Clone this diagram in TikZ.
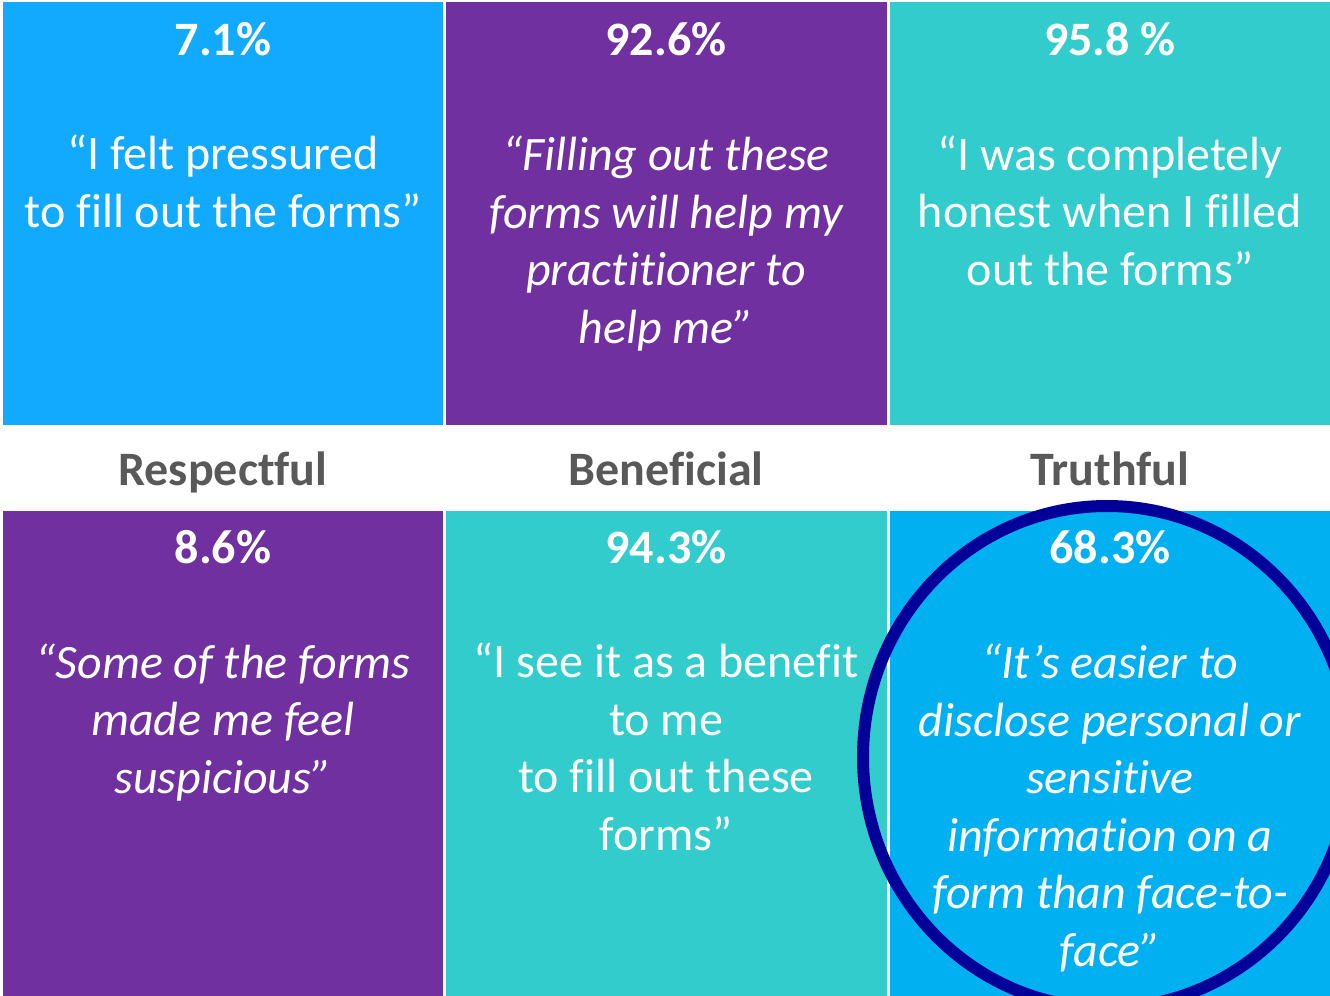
\documentclass[tikz,border=0pt]{standalone}
\usepackage{fontspec}
\setmainfont{Carlito}[Ligatures={NoCommon}]
\definecolor{skyblue}{RGB}{17,170,255}
\definecolor{plum}{RGB}{112,48,160}
\definecolor{teal}{RGB}{51,204,204}
\definecolor{cyanblue}{RGB}{0,176,240}
\definecolor{navy}{RGB}{0,0,153}
\definecolor{labelgray}{RGB}{89,89,89}
\begin{document}
\begin{tikzpicture}[x=.5pt, y=-.5pt, line join=round, line cap=round]
	\def\fs{\fontsize{24}{28.75}\selectfont}
	\tikzset{
		pct/.style={anchor=base, inner sep=0, text=white, font=\fs\bfseries},
		quote/.style={anchor=base, inner sep=0, align=center, text=white, font=\fs},
		lbl/.style={anchor=base, inner sep=0, text=labelgray, font=\fs\bfseries}
	}
	\useasboundingbox (0,0) rectangle (1330,996);
	% boxes
	\fill[skyblue] (3,2) rectangle (443,425);
	\fill[plum] (446,2) rectangle (887,425);
	\fill[teal] (890,2) rectangle (1330,425);
	\fill[plum] (3,511) rectangle (443,996);
	\fill[teal] (446,511) rectangle (887,996);
	\fill[cyanblue] (890,511) rectangle (1330,996);
	\draw[navy, line width=6pt] (1107,757) ellipse [x radius=244, y radius=251];
	% top row
	\node[pct] (p1) at (223,55) {7.1\%};
	\node[quote] (q1) at (223,227) {“I felt pressured\\to fill out the forms”};
	\node[pct] (p2) at (666,55) {92.6\%};
	\node[quote, font=\fs\itshape] (q2) at (666,343) {“Filling out these\\forms will help my\\practitioner to\\help me”};
	\node[pct] (p3) at (1110,55) {95.8 \%};
	\node[quote] (q3) at (1110,285) {“I was completely\\honest when I filled\\out the forms”};
	% labels
	\node[lbl] (l1) at (223,485) {Respectful};
	\node[lbl] (l2) at (666,485) {Beneficial};
	\node[lbl] (l3) at (1110,485) {Truthful};
	% bottom row
	\node[pct] (p4) at (223,563) {8.6\%};
	\node[quote, font=\fs\itshape] (q4) at (223,793) {“Some of the forms\\made me feel\\suspicious”};
	\node[pct] (p5) at (666,563) {94.3\%};
	\node[quote] (q5) at (666,850) {“I see it as a benefit\\to me\\to fill out these\\forms”};
	\node[pct] (p6) at (1110,563) {68.3\%};
	\node[quote, font=\fs\itshape] (q6) at (1110,966) {“It’s easier to\\disclose personal or\\sensitive\\information on a\\form than face-to-\\face”};
\end{tikzpicture}
\end{document}
